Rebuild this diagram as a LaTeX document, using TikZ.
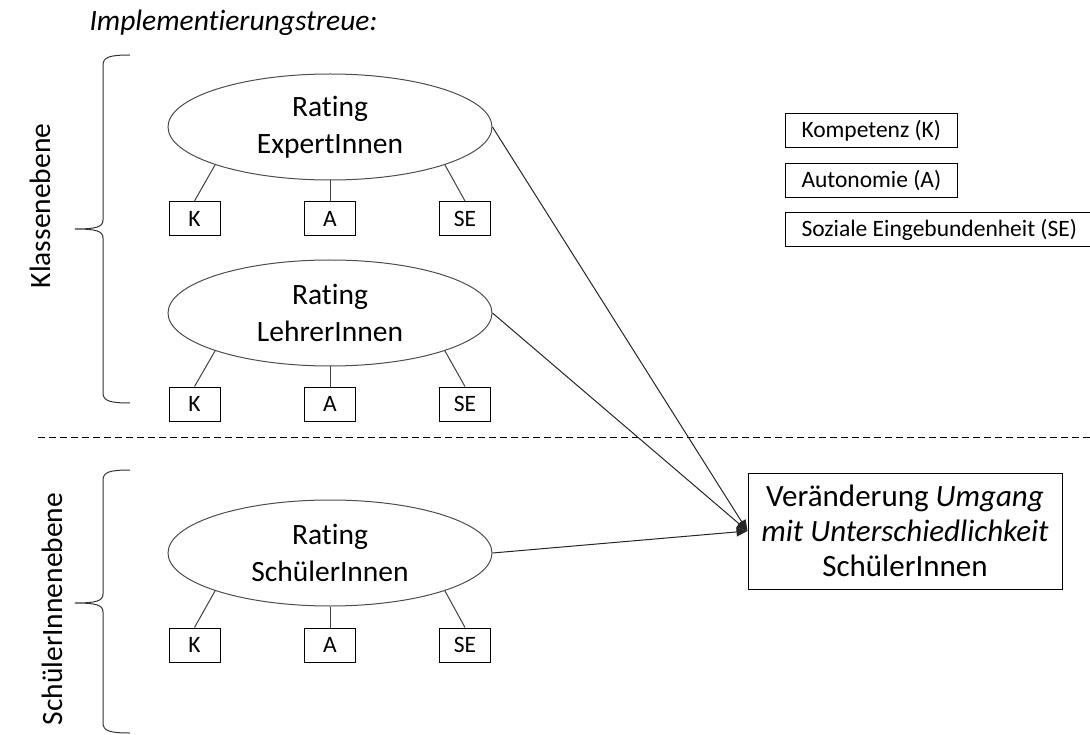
\documentclass[tikz,border=0pt]{standalone}
\usepackage{fontspec}
\setmainfont{Carlito}[Ligatures=NoCommon]
\usetikzlibrary{arrows.meta,shapes.geometric}
\begin{document}
\begin{tikzpicture}[x=1pt,y=-1pt,
  big/.style={font=\fontsize{29.5}{37}\selectfont},
  rating/.style={ellipse, draw=black!70, line width=1pt, minimum width=324pt, minimum height=106pt, inner sep=0pt, align=center, big},
  sub/.style={draw, line width=1pt, minimum width=51pt, minimum height=34pt, inner sep=0pt, font=\fontsize{23.5}{28}\selectfont},
  legend/.style={draw, line width=1pt, minimum height=34pt, inner xsep=16pt, inner ysep=0pt, anchor=west, font=\fontsize{23.5}{28}\selectfont},
  link/.style={draw=black!75, line width=1pt},
  arr/.style={draw=black!85, line width=1pt, -{Triangle[length=11pt,width=9pt]}},
  brace/.style={draw=black!80, line width=1pt},
  target/.style={draw, line width=1pt, minimum width=314pt, minimum height=116pt, inner sep=0pt, align=center, font=\fontsize{31}{35}\selectfont}
]
\useasboundingbox (0,0) rectangle (1090,735);

% title
\node[anchor=base west, font=\fontsize{29.5}{37}\selectfont\itshape] (title) at (86,31) {Implementierungstreue:};

% level labels
\node[big, rotate=90] (lk) at (40,206) {Klassenebene};
\node[big, rotate=90] (ls) at (52,609) {SchülerInnenebene};

% braces
\draw[brace] (130,55) .. controls (110,55) and (103,57) .. (103,65) -- (103,220)
  .. controls (103,227) and (96,229) .. (75,229)
  .. controls (96,229) and (103,231) .. (103,238) -- (103,393)
  .. controls (103,401) and (110,403) .. (130,403);
\draw[brace] (130,470) .. controls (110,470) and (103,472) .. (103,480) -- (103,594)
  .. controls (103,601) and (96,603) .. (75,603)
  .. controls (96,603) and (103,605) .. (103,612) -- (103,723)
  .. controls (103,731) and (110,733) .. (130,733);

% dashed separator
\draw[line width=1pt, dash pattern=on 7pt off 4pt] (38,437) -- (1090,437);

% ellipses
\node[rating] (e1) at (330,127) {Rating\\ExpertInnen};
\node[rating] (e2) at (330,313) {Rating\\LehrerInnen};
\node[rating] (e3) at (330,553) {Rating\\SchülerInnen};

% sub boxes
\foreach \r/\y in {1/218.5, 2/404, 3/645} {
  \node[sub] (k\r) at (194.5,\y) {K};
  \node[sub] (a\r) at (330,\y) {A};
  \node[sub] (s\r) at (465,\y) {SE};
  \draw[link] (e\r.south west) -- (k\r.north);
  \draw[link] (e\r.south) -- (a\r.north);
  \draw[link] (e\r.south east) -- (s\r.north);
}

% legend
\node[legend] (gk) at (785,131) {Kompetenz (K)};
\node[legend] (ga) at (785,180.5) {Autonomie (A)};
\node[legend] (gs) at (785,229.5) {Soziale Eingebundenheit (SE)};

% target
\node[target] (t) at (905,531) {Veränderung \textit{Umgang}\\\textit{mit Unterschiedlichkeit}\\SchülerInnen};

% arrows
\draw[arr] (e1.east) -- (t.west);
\draw[arr] (e2.east) -- (t.west);
\draw[arr] (e3.east) -- (t.west);
\end{tikzpicture}
\end{document}
